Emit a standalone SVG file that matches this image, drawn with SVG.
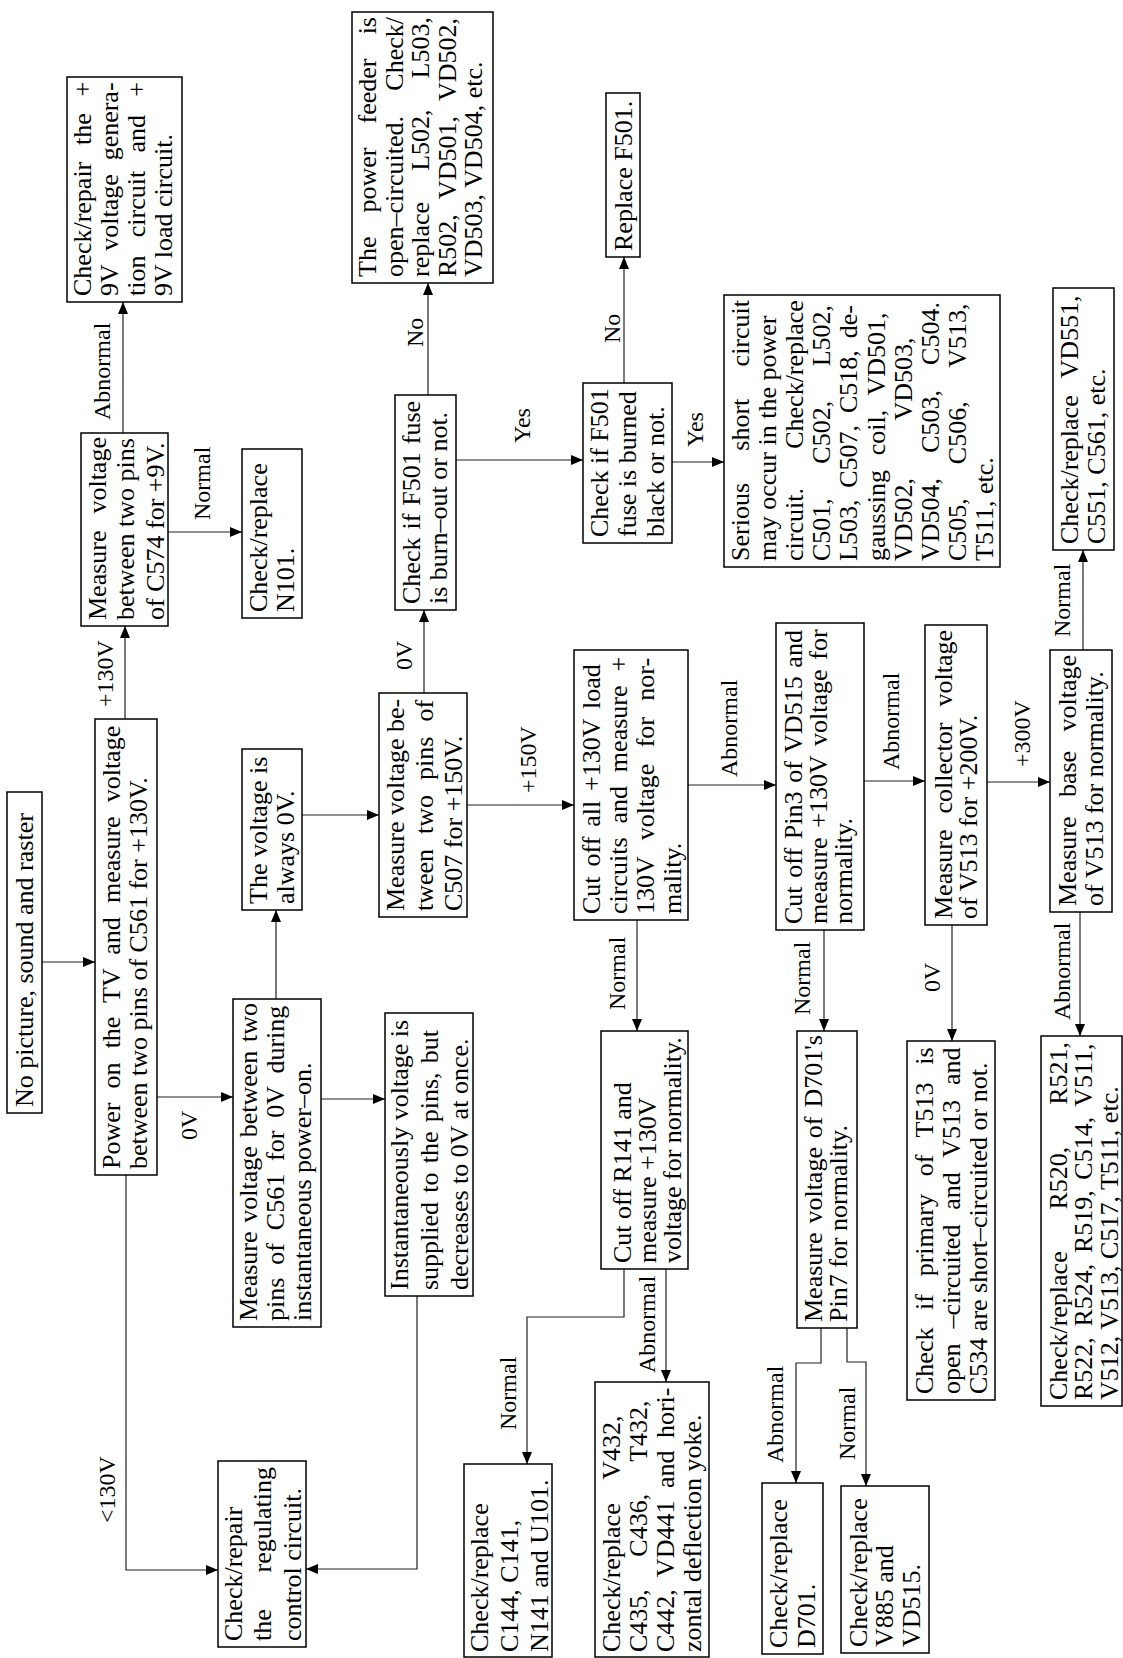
<svg xmlns="http://www.w3.org/2000/svg" width="1123" height="1658" viewBox="0 0 1123 1658">
<style>
.box{fill:#fff;stroke:#000;stroke-width:1.5}
.t{font-family:"Liberation Serif","Times New Roman",serif;font-size:26px;fill:#000}
.lbl{font-family:"Liberation Serif","Times New Roman",serif;font-size:24px;fill:#000}
.c{fill:none;stroke:#222;stroke-width:1.2;marker-end:url(#ah)}
.cn{fill:none;stroke:#222;stroke-width:1.2}
</style>
<defs>
<marker id="ah" markerWidth="12" markerHeight="10" refX="12" refY="5" orient="auto" markerUnits="userSpaceOnUse"><path d="M0,0 L12,5 L0,10 z" fill="#000"/></marker>
</defs>
<rect width="1123" height="1658" fill="#fff"/>
<g id="connectors">
<path class="c" d="M42,962 H95"/>
<path class="c" d="M125,719 V626"/>
<path class="c" d="M123,433 V302"/>
<path class="c" d="M168,532 H242"/>
<path class="c" d="M157,1097 H233"/>
<path class="c" d="M126,1175 V1570 H218"/>
<path class="c" d="M276,999 V910"/>
<path class="c" d="M321,1099 H385"/>
<path class="c" d="M417,1296 V1569 H306"/>
<path class="c" d="M302,815 H379"/>
<path class="c" d="M424,693 V610"/>
<path class="c" d="M467,805 H574"/>
<path class="c" d="M428,395 V283"/>
<path class="c" d="M456,460 H583"/>
<path class="c" d="M624,383 V257"/>
<path class="c" d="M672,462 H724"/>
<path class="c" d="M637,920 V1031"/>
<path class="c" d="M688,785 H776"/>
<path class="c" d="M624,1269 V1317 H527 V1464"/>
<path class="c" d="M666,1269 V1382"/>
<path class="c" d="M864,781 H925"/>
<path class="c" d="M824,930 V1031"/>
<path class="c" d="M987,782 H1050"/>
<path class="c" d="M952,925 V1041"/>
<path class="c" d="M1083,650 V550"/>
<path class="c" d="M1080,912 V1036"/>
<path class="c" d="M821,1328 V1363 H796 V1483"/>
<path class="c" d="M847,1328 V1362 H866 V1486"/>
<text class="lbl" transform="translate(113,707) rotate(-90)">+130V</text>
<text class="lbl" transform="translate(110,420) rotate(-90)">Abnormal</text>
<text class="lbl" transform="translate(210,520) rotate(-90)">Normal</text>
<text class="lbl" transform="translate(197,1140) rotate(-90)">0V</text>
<text class="lbl" transform="translate(115,1523) rotate(-90)">&lt;130V</text>
<text class="lbl" transform="translate(412,670) rotate(-90)">0V</text>
<text class="lbl" transform="translate(536,793) rotate(-90)">+150V</text>
<text class="lbl" transform="translate(423,347) rotate(-90)">No</text>
<text class="lbl" transform="translate(530,443) rotate(-90)">Yes</text>
<text class="lbl" transform="translate(620,343) rotate(-90)">No</text>
<text class="lbl" transform="translate(703,447) rotate(-90)">Yes</text>
<text class="lbl" transform="translate(625,1010) rotate(-90)">Normal</text>
<text class="lbl" transform="translate(737,777) rotate(-90)">Abnormal</text>
<text class="lbl" transform="translate(516,1430) rotate(-90)">Normal</text>
<text class="lbl" transform="translate(655,1373) rotate(-90)">Abnormal</text>
<text class="lbl" transform="translate(899,770) rotate(-90)">Abnormal</text>
<text class="lbl" transform="translate(810,1015) rotate(-90)">Normal</text>
<text class="lbl" transform="translate(1030,767) rotate(-90)">+300V</text>
<text class="lbl" transform="translate(940,992) rotate(-90)">0V</text>
<text class="lbl" transform="translate(1070,637) rotate(-90)">Normal</text>
<text class="lbl" transform="translate(1070,1020) rotate(-90)">Abnormal</text>
<text class="lbl" transform="translate(783,1463) rotate(-90)">Abnormal</text>
<text class="lbl" transform="translate(855,1460) rotate(-90)">Normal</text>
</g>
<g id="b1"><rect class="box" x="7" y="792" width="35" height="321"/>
<text class="t" transform="translate(33,1107) rotate(-90)">No picture, sound and raster</text></g>
<g id="b2"><rect class="box" x="95" y="719" width="62" height="456"/>
<text class="t" transform="translate(120,1169) rotate(-90)" word-spacing="7.6">Power on the TV and measure voltage</text>
<text class="t" transform="translate(147,1169) rotate(-90)">between two pins of C561 for +130V.</text></g>
<g id="b3"><rect class="box" x="81" y="433" width="87" height="193"/>
<text class="t" transform="translate(106,620) rotate(-90)" word-spacing="10.4">Measure voltage</text>
<text class="t" transform="translate(134,620) rotate(-90)">between two pins</text>
<text class="t" transform="translate(164,620) rotate(-90)">of C574 for +9V.</text></g>
<g id="b4"><rect class="box" x="67" y="77" width="115" height="225"/>
<text class="t" transform="translate(91,296) rotate(-90)" word-spacing="10.2">Check/repair the +</text>
<text class="t" transform="translate(118,296) rotate(-90)" word-spacing="7.4">9V voltage genera-</text>
<text class="t" transform="translate(145,296) rotate(-90)" word-spacing="11.8">tion circuit and +</text>
<text class="t" transform="translate(172,296) rotate(-90)">9V load circuit.</text></g>
<g id="b5"><rect class="box" x="242" y="449" width="60" height="169"/>
<text class="t" transform="translate(267,612) rotate(-90)">Check/replace</text>
<text class="t" transform="translate(294,612) rotate(-90)">N101.</text></g>
<g id="b6"><rect class="box" x="242" y="749" width="60" height="161"/>
<text class="t" transform="translate(267,904) rotate(-90)">The voltage is</text>
<text class="t" transform="translate(294,904) rotate(-90)">always 0V.</text></g>
<g id="b7"><rect class="box" x="233" y="999" width="88" height="328"/>
<text class="t" transform="translate(257,1321) rotate(-90)" word-spacing="2.3">Measure voltage between two</text>
<text class="t" transform="translate(284,1321) rotate(-90)" word-spacing="6.4">pins of C561 for 0V during</text>
<text class="t" transform="translate(311,1321) rotate(-90)">instantaneous power–on.</text></g>
<g id="b8"><rect class="box" x="385" y="1013" width="88" height="283"/>
<text class="t" transform="translate(408,1290) rotate(-90)">Instantaneously voltage is</text>
<text class="t" transform="translate(438,1290) rotate(-90)" word-spacing="2.7">supplied to the pins, but</text>
<text class="t" transform="translate(468,1290) rotate(-90)">decreases to 0V at once.</text></g>
<g id="b9"><rect class="box" x="218" y="1461" width="88" height="186"/>
<text class="t" transform="translate(242,1641) rotate(-90)">Check/repair</text>
<text class="t" transform="translate(271,1641) rotate(-90)" word-spacing="30.3">the regulating</text>
<text class="t" transform="translate(301,1641) rotate(-90)">control circuit.</text></g>
<g id="b10"><rect class="box" x="379" y="693" width="88" height="224"/>
<text class="t" transform="translate(404,911) rotate(-90)">Measure voltage be-</text>
<text class="t" transform="translate(433,911) rotate(-90)" word-spacing="8.5">tween two pins of</text>
<text class="t" transform="translate(462,911) rotate(-90)">C507 for +150V.</text></g>
<g id="b11"><rect class="box" x="395" y="395" width="61" height="215"/>
<text class="t" transform="translate(420,604) rotate(-90)" word-spacing="1.5">Check if F501 fuse</text>
<text class="t" transform="translate(447,604) rotate(-90)">is burn–out or not.</text></g>
<g id="b12"><rect class="box" x="583" y="383" width="89" height="160"/>
<text class="t" transform="translate(608,537) rotate(-90)">Check if F501</text>
<text class="t" transform="translate(636,537) rotate(-90)">fuse is burned</text>
<text class="t" transform="translate(664,537) rotate(-90)">black or not.</text></g>
<g id="b13"><rect class="box" x="724" y="295" width="276" height="272"/>
<text class="t" transform="translate(749,561) rotate(-90)" word-spacing="25.8">Serious short circuit</text>
<text class="t" transform="translate(776,561) rotate(-90)">may occur in the power</text>
<text class="t" transform="translate(803,561) rotate(-90)" word-spacing="32.8">circuit. Check/replace</text>
<text class="t" transform="translate(830,561) rotate(-90)" word-spacing="28">C501, C502, L502,</text>
<text class="t" transform="translate(857,561) rotate(-90)" word-spacing="5.4">L503, C507, C518, de-</text>
<text class="t" transform="translate(885,561) rotate(-90)" word-spacing="8.2">gaussing coil, VD501,</text>
<text class="t" transform="translate(912,561) rotate(-90)" word-spacing="51.4">VD502, VD503,</text>
<text class="t" transform="translate(939,561) rotate(-90)" word-spacing="18.6">VD504, C503, C504.</text>
<text class="t" transform="translate(966,561) rotate(-90)" word-spacing="27.5">C505, C506, V513,</text>
<text class="t" transform="translate(993,561) rotate(-90)">T511, etc.</text></g>
<g id="b14"><rect class="box" x="606" y="93" width="34" height="164"/>
<text class="t" transform="translate(632,251) rotate(-90)">Replace F501.</text></g>
<g id="b15"><rect class="box" x="352" y="12" width="141" height="271"/>
<text class="t" transform="translate(376,277) rotate(-90)" word-spacing="17.6">The power feeder is</text>
<text class="t" transform="translate(402.5,277) rotate(-90)" word-spacing="18.8">open–circuited. Check/</text>
<text class="t" transform="translate(429,277) rotate(-90)" word-spacing="24.6">replace L502, L503,</text>
<text class="t" transform="translate(455.5,277) rotate(-90)" word-spacing="9">R502, VD501, VD502,</text>
<text class="t" transform="translate(482,277) rotate(-90)">VD503, VD504, etc.</text></g>
<g id="b16"><rect class="box" x="574" y="650" width="114" height="270"/>
<text class="t" transform="translate(600,914) rotate(-90)" word-spacing="3.4">Cut off all +130V load</text>
<text class="t" transform="translate(627,914) rotate(-90)" word-spacing="7.4">circuits and measure +</text>
<text class="t" transform="translate(654,914) rotate(-90)" word-spacing="9.9">130V voltage for nor-</text>
<text class="t" transform="translate(681,914) rotate(-90)">mality.</text></g>
<g id="b17"><rect class="box" x="601" y="1031" width="87" height="238"/>
<text class="t" transform="translate(631,1263) rotate(-90)">Cut off R141 and</text>
<text class="t" transform="translate(656,1263) rotate(-90)">measure +130V</text>
<text class="t" transform="translate(681,1263) rotate(-90)">voltage for normality.</text></g>
<g id="b18"><rect class="box" x="464" y="1464" width="88" height="193"/>
<text class="t" transform="translate(488,1652) rotate(-90)">Check/replace</text>
<text class="t" transform="translate(518,1652) rotate(-90)">C144, C141,</text>
<text class="t" transform="translate(548,1652) rotate(-90)">N141 and U101.</text></g>
<g id="b19"><rect class="box" x="595" y="1382" width="114" height="275"/>
<text class="t" transform="translate(620,1652) rotate(-90)" word-spacing="17.5">Check/replace V432,</text>
<text class="t" transform="translate(647,1652) rotate(-90)" word-spacing="26">C435, C436, T432,</text>
<text class="t" transform="translate(674,1652) rotate(-90)" word-spacing="6">C442, VD441 and hori-</text>
<text class="t" transform="translate(701,1652) rotate(-90)">zontal deflection yoke.</text></g>
<g id="b20"><rect class="box" x="776" y="623" width="88" height="307"/>
<text class="t" transform="translate(802,924) rotate(-90)" word-spacing="2.2">Cut off Pin3 of VD515 and</text>
<text class="t" transform="translate(827,924) rotate(-90)" word-spacing="3.2">measure +130V voltage for</text>
<text class="t" transform="translate(852,924) rotate(-90)">normality.</text></g>
<g id="b21"><rect class="box" x="925" y="625" width="62" height="300"/>
<text class="t" transform="translate(952,919) rotate(-90)" word-spacing="9.5">Measure collector voltage</text>
<text class="t" transform="translate(977,919) rotate(-90)">of V513 for +200V.</text></g>
<g id="b22"><rect class="box" x="1050" y="650" width="62" height="262"/>
<text class="t" transform="translate(1076,906) rotate(-90)" word-spacing="12.9">Measure base voltage</text>
<text class="t" transform="translate(1103,906) rotate(-90)">of V513 for normality.</text></g>
<g id="b23"><rect class="box" x="1053" y="288" width="61" height="262"/>
<text class="t" transform="translate(1078,544) rotate(-90)" word-spacing="10.7">Check/replace VD551,</text>
<text class="t" transform="translate(1105,544) rotate(-90)">C551, C561, etc.</text></g>
<g id="b24"><rect class="box" x="797" y="1031" width="60" height="297"/>
<text class="t" transform="translate(822,1322) rotate(-90)" word-spacing="2.4">Measure voltage of D701's</text>
<text class="t" transform="translate(847,1322) rotate(-90)">Pin7 for normality.</text></g>
<g id="b25"><rect class="box" x="907" y="1041" width="88" height="359"/>
<text class="t" transform="translate(933,1394) rotate(-90)" word-spacing="11.2">Check if primary of T513 is</text>
<text class="t" transform="translate(960,1394) rotate(-90)" word-spacing="8.4">open –circuited and V513 and</text>
<text class="t" transform="translate(987,1394) rotate(-90)">C534 are short–circuited or not.</text></g>
<g id="b26"><rect class="box" x="1041" y="1036" width="81" height="370"/>
<text class="t" transform="translate(1067,1400) rotate(-90)" word-spacing="35.3">Check/replace R520, R521,</text>
<text class="t" transform="translate(1092,1400) rotate(-90)" word-spacing="4.1">R522, R524, R519, C514, V511,</text>
<text class="t" transform="translate(1118,1400) rotate(-90)">V512, V513, C517, T511, etc.</text></g>
<g id="b27"><rect class="box" x="762" y="1483" width="61" height="171"/>
<text class="t" transform="translate(787,1648) rotate(-90)">Check/replace</text>
<text class="t" transform="translate(815,1648) rotate(-90)">D701.</text></g>
<g id="b28"><rect class="box" x="841" y="1486" width="88" height="167"/>
<text class="t" transform="translate(867,1647) rotate(-90)">Check/replace</text>
<text class="t" transform="translate(893,1647) rotate(-90)">V885 and</text>
<text class="t" transform="translate(920,1647) rotate(-90)">VD515.</text></g>
</svg>
